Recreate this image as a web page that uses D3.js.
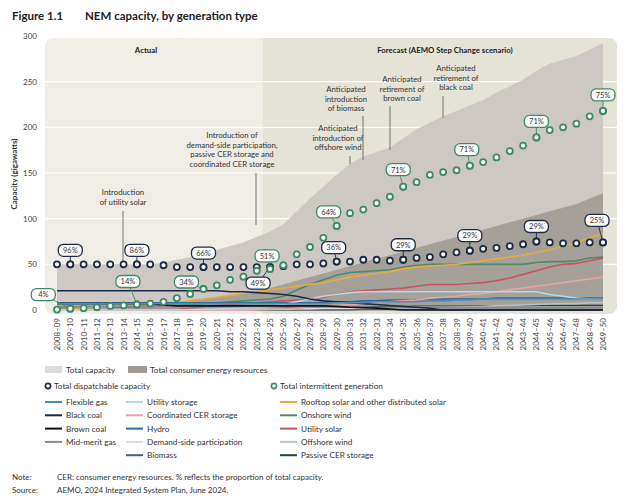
<!DOCTYPE html>
<html><head><meta charset="utf-8">
<script src="https://cdn.jsdelivr.net/npm/d3@7"></script>
<style>
body{margin:0;background:#fff;font-family:Lato,"Open Sans",sans-serif;}
text{font-family:Lato,"Open Sans",sans-serif;}
</style></head>
<body><svg id="chart" width="627" height="500"></svg>
<script>
const years = ["2008–09","2009–10","2010–11","2011–12","2012–13","2013–14","2014–15","2015–16","2016–17","2017–18","2018–19","2019–20","2020–21","2021–22","2022–23","2023–24","2024–25","2025–26","2026–27","2027–28","2028–29","2029–30","2030–31","2031–32","2032–33","2033–34","2034–35","2035–36","2036–37","2037–38","2038–39","2039–40","2040–41","2041–42","2042–43","2043–44","2044–45","2045–46","2046–47","2047–48","2048–49","2049–50"];
const yTicks = [0,50,100,150,200,250,300];

const totalCapacity = [50,50,50,50,50,50,50,50,52,55,58,62,66,70,74,80,86,94,108,122,135,148,160,168,173,178,188,198,205,212,218,224,230,238,245,252,262,270,274,278,285,292];
const totalCER = [1,1,2,2,3,4,5,6,7,8,10,12,14,16,18,21,24,28,32,36,40,44,48,52,56,60,64,68,72,76,80,84,88,92,96,100,104,108,112,116,122,128];
const dispatchable = [50,50,50,50,50,50,50,50,49,47,47,47,47,47,47,47,47,48,50,50,51,53,53,55,55,54,55,57,58,61,63,65,67,68,70,72,75,74,73,73,74,74];
const intermittent = [0.5,1.5,2,3,4.5,5,6,7,9,13,17.5,23,27,33,36.5,43,45,49,61,69,79,92,106,110,117,124,135,140,148,151,153,158,162,167,174,180,189,197,200,204,212,218];

const flexibleGas = [7,7,7,7,7,7,7,7,7,7,7,7,7,7,7,7,7,7,7,7,7,8,8,8,9,9,9,9,10,10,11,11,12,12,12,12,12,12,12,12,12,12];
const blackCoal = [21,21,21,21,21,21,21,21,21,21,21,21,21,20,20,19,18,17,15,12,10,9,8,7,6,5,4,3,2,0,0,0,0,0,0,0,0,0,0,0,0,0];
const brownCoal = [7,7,7,7,7,7,7,7,5.5,4.5,4.5,4.5,4.5,4.5,4.5,4.5,4.5,4.5,4.5,4.5,4.5,4,3,2.5,2,1,0,0,0,0,0,0,0,0,0,0,0,0,0,0,0,0];
const midMeritGas = [4,4,4,4,4,4,4,4,4,4,4,4,4,4,4,4,4,4,4,3.5,3.5,3.5,3,3,3,3,3,3,3,3,3,3,3,3,3,3,3,3,3,3,3,3];
const utilityStorage = [0,0,0,0,0,0,0,0,0,0,0.5,0.5,1,1.5,2,3,4,6,9,12,15,17,19,20,20,20,20,20,20,20,20,20,20,20,20,20,20,17,15,13,12,12];
const coordCER = [0,0,0,0,0,0,0,0,0,0,0,0,0,0,0,0,0.5,1,2,3,4,5,6,7,8,9,10,11,13,14,15,17,18,20,22,24,26,28,30,32,34,36];
const hydro = [8,8,8,8,8,8,8,8,8,8,8,8,8,8,8,8,8,8,8,8,8,9,9,10,10,11,11,11,12,12,12,12,12,13,13,13,13,13,13,13,13,13];
const demandSide = [0,0,0,0,0,0,0,0,0,0,0,0,0,0,0,1,1,1,1.5,1.5,2,2,2,2.5,2.5,2.5,3,3,3,3,3,3,3,3,3,3,3,3,3,3,3,3];
const biomass = [0,0,0,0,0,0,0,0,0,0,0,0,0,0,0,0,0,0,0,0,0,0,0,0.5,0.5,0.5,0.5,0.5,0.5,0.5,0.5,0.5,0.5,0.5,0.5,0.5,0.5,0.5,0.5,0.5,0.5,0.5];
const rooftopSolar = [0.5,1,2,3,4,5,5.5,6,7,8,10,12,14,16,18,20,22,24,26,28,30,33,36,38,40,42,45,47,48,49,50,52,54,56,58,60,63,66,70,74,79,84];
const onshoreWind = [2,2,2,3,3,3,4,4,5,5,6,7,8,9,10,11,12,15,22,28,33,38,41,42,43,44,47,49,50,50,50,50,50,50,50,50,52,53,53,54,57,58];
const utilitySolar = [0,0,0,0,0,0.3,0.5,0.5,0.5,0.5,2,4,5,6,7,8,9,10,11,12,14,17,20,21,22,23,24,26,28,28,28,29,30,32,35,39,43,47,50,51,54,57];
const offshoreWind = [0,0,0,0,0,0,0,0,0,0,0,0,0,0,0,0,0,0,0,0,0,0,0,0,0,0.5,1,1.5,2,2.5,3,3.5,4,4.5,5,5.5,6,6.5,7,7,8,8];
const passiveCER = [0,0,0,0,0,0,0,0,0,0,0,0,0,0,0,0.5,1,1.5,2,2,2.5,3,3,3,3.5,3.5,3.5,4,4,4,4,4,4.5,4.5,4.5,4.5,5,5,5,5,5,5];

const dispLabels = [[1,"96%"],[6,"86%"],[11,"66%"],[16,"49%"],[21,"36%"],[26,"29%"],[31,"29%"],[36,"29%"],[41,"25%"]];
const intLabels = [[1,"4%"],[6,"14%"],[11,"34%"],[16,"51%"],[21,"64%"],[26,"71%"],[31,"71%"],[36,"71%"],[41,"75%"]];

const series = [
  {name:"Flexible gas", v:flexibleGas, c:"#4b8db8", col:0},
  {name:"Black coal", v:blackCoal, c:"#1e2a45", col:0},
  {name:"Brown coal", v:brownCoal, c:"#111111", col:0},
  {name:"Mid-merit gas", v:midMeritGas, c:"#8a8a8a", col:0},
  {name:"Utility storage", v:utilityStorage, c:"#b9d6e8", col:1},
  {name:"Coordinated CER storage", v:coordCER, c:"#eba3a0", col:1},
  {name:"Hydro", v:hydro, c:"#2d6a99", col:1},
  {name:"Demand-side participation", v:demandSide, c:"#dcdcdc", col:1},
  {name:"Biomass", v:biomass, c:"#525e6b", col:1},
  {name:"Rooftop solar and other distributed solar", v:rooftopSolar, c:"#e9aa3c", col:2},
  {name:"Onshore wind", v:onshoreWind, c:"#4c8a68", col:2},
  {name:"Utility solar", v:utilitySolar, c:"#c8535a", col:2},
  {name:"Offshore wind", v:offshoreWind, c:"#b9c3c3", col:2},
  {name:"Passive CER storage", v:passiveCER, c:"#24453f", col:2}
];

const svg = d3.select("#chart");
const x = d3.scalePoint().domain(years).range([57,603]);
const y = d3.scaleLinear().domain([0,300]).range([310,36]);
const navy = "#1f2b45", green = "#3e8a66";

// title
svg.append("text").attr("x",12).attr("y",20).attr("font-size",11.5).attr("font-weight",700).attr("fill","#222").text("Figure 1.1");
svg.append("text").attr("x",85).attr("y",20).attr("font-size",11.5).attr("font-weight",700).attr("fill","#222").text("NEM capacity, by generation type");

// plot background
const splitX = (x(years[15]) + x(years[16])) / 2 - 1;
svg.append("clipPath").attr("id","bg").append("rect").attr("x",45).attr("y",38).attr("width",572).attr("height",276).attr("rx",8);
const bg = svg.append("g").attr("clip-path","url(#bg)");
bg.append("rect").attr("x",45).attr("y",38).attr("width",splitX-45).attr("height",276).attr("fill","#efede6");
bg.append("rect").attr("x",splitX).attr("y",38).attr("width",617-splitX).attr("height",276).attr("fill","#e5e2d8");
bg.selectAll("line.grid").data(yTicks.slice(1,-1)).join("line")
  .attr("x1",45).attr("x2",617).attr("y1",d=>y(d)).attr("y2",d=>y(d)).attr("stroke","#fff").attr("stroke-width",1.2);

// y axis labels
svg.selectAll("text.yt").data(yTicks).join("text").attr("x",37).attr("y",d=>y(d)+3).attr("text-anchor","end")
  .attr("font-size",8).attr("fill","#444").text(d=>d);
svg.append("text").attr("transform","translate(17,174) rotate(-90)").attr("text-anchor","middle")
  .attr("font-size",8).attr("font-weight",700).attr("fill","#333").text("Capacity (gigawatts)");

// areas
const area = vals => d3.area().x((d,i)=>x(years[i])).y0(y(0)).y1(d=>y(d))(vals);
bg.append("path").attr("d",area(totalCapacity)).attr("fill","#cdc8c4");
bg.append("path").attr("d",area(totalCER)).attr("fill","#a6a09b");

// lines
const line = d3.line().x((d,i)=>x(years[i])).y(d=>y(d));
bg.selectAll("path.s").data(series.slice().reverse()).join("path")
  .attr("d",d=>line(d.v)).attr("fill","none").attr("stroke",d=>d.c).attr("stroke-width",1.6);

// annotations
const notes = [
  {lines:["Introduction","of utility solar"], cx:123, ty:195, lx:123, l1:211, l2:264},
  {lines:["Introduction of","demand-side participation,","passive CER storage and","coordinated CER storage"], cx:232, ty:138, lx:256, l1:173, l2:225},
  {lines:["Anticipated","introduction of","offshore wind"], cx:338, ty:131, lx:350, l1:156, l2:164},
  {lines:["Anticipated","introduction","of biomass"], cx:346, ty:92, lx:363, l1:116, l2:160},
  {lines:["Anticipated","retirement of","brown coal"], cx:402, ty:82, lx:390, l1:106, l2:150},
  {lines:["Anticipated","retirement of","black coal"], cx:456, ty:71, lx:443, l1:96, l2:118}
];
notes.forEach(n=>{
  const t = svg.append("text").attr("text-anchor","middle").attr("font-size",7.8).attr("fill","#333");
  n.lines.forEach((s,i)=>t.append("tspan").attr("x",n.cx).attr("y",n.ty+i*9.6).text(s));
  svg.append("line").attr("x1",n.lx).attr("x2",n.lx).attr("y1",n.l1).attr("y2",n.l2).attr("stroke","#555").attr("stroke-width",0.8);
});
svg.append("text").attr("x",146).attr("y",53).attr("text-anchor","middle").attr("font-size",7.8).attr("font-weight",700).attr("fill","#222").text("Actual");
svg.append("text").attr("x",445).attr("y",53).attr("text-anchor","middle").attr("font-size",7.8).attr("font-weight",700).attr("fill","#222").text("Forecast (AEMO Step Change scenario)");

// dots
function dots(vals, col){
  svg.append("g").selectAll("circle").data(vals).join("circle")
    .attr("cx",(d,i)=>x(years[i])).attr("cy",d=>y(d)).attr("r",3)
    .attr("fill","#fff").attr("stroke",col).attr("stroke-width",1.8);
}
dots(dispatchable, navy);
dots(intermittent, green);

// percent callouts (dx, dy offsets of the box from the dot)
const dispOff = {1:[0,-14],6:[0,-14],11:[0,-14],16:[-12,16],21:[-3,-14],26:[0,-15],31:[0,-15],36:[0,-15],41:[-6,-22]};
const intOff = {1:[-27,-14],6:[-9,-23],11:[-17,-7],16:[-3,-13],21:[-8,-14],26:[-5,-17],31:[-3,-16],36:[0,-16],41:[0,-16]};
function callouts(labels, vals, offs, col){
  labels.forEach(([i,t])=>{
    const px = x(years[i]), py = y(vals[i]);
    const [dx,dy] = offs[i];
    const bx = px+dx, by = py+dy;
    svg.append("line").attr("x1",px).attr("y1",py).attr("x2",bx).attr("y2",by).attr("stroke",col).attr("stroke-width",0.9);
    svg.append("rect").attr("x",bx-12).attr("y",by-6).attr("width",24).attr("height",12).attr("rx",5)
      .attr("fill","#fff").attr("stroke",col).attr("stroke-width",1.3);
    svg.append("text").attr("x",bx).attr("y",by+2.8).attr("text-anchor","middle").attr("font-size",7.5).attr("fill","#333").text(t);
    svg.append("circle").attr("cx",px).attr("cy",py).attr("r",3).attr("fill","#fff").attr("stroke",col).attr("stroke-width",1.8);
  });
}
callouts(dispLabels, dispatchable, dispOff, navy);
callouts(intLabels, intermittent, intOff, green);

// x axis labels
svg.selectAll("text.xt").data(years).join("text")
  .attr("transform",d=>`translate(${x(d)+3},318) rotate(-90)`).attr("text-anchor","end")
  .attr("font-size",8).attr("fill","#444").text(d=>d);

// legend
const lg = svg.append("g").attr("font-size",8.2).attr("fill","#333");
lg.append("rect").attr("x",45).attr("y",366).attr("width",17).attr("height",7).attr("fill","#dddad7");
lg.append("text").attr("x",66).attr("y",373).text("Total capacity");
lg.append("rect").attr("x",128).attr("y",366).attr("width",19).attr("height",7).attr("fill","#9f9995");
lg.append("text").attr("x",150).attr("y",373).text("Total consumer energy resources");
lg.append("circle").attr("cx",48).attr("cy",386).attr("r",2.6).attr("fill","#fff").attr("stroke",navy).attr("stroke-width",1.6);
lg.append("text").attr("x",54).attr("y",389).text("Total dispatchable capacity");
lg.append("circle").attr("cx",274).attr("cy",386).attr("r",2.6).attr("fill","#fff").attr("stroke",green).attr("stroke-width",1.6);
lg.append("text").attr("x",280).attr("y",389).text("Total intermittent generation");
const colX = [45,126,280];
series.forEach(s=>{
  const row = series.filter(t=>t.col===s.col).indexOf(s);
  const yy = 402 + row*13.3;
  lg.append("line").attr("x1",colX[s.col]).attr("x2",colX[s.col]+17).attr("y1",yy).attr("y2",yy).attr("stroke",s.c).attr("stroke-width",2);
  lg.append("text").attr("x",colX[s.col]+21).attr("y",yy+3).text(s.name);
});

// notes
const ft = svg.append("g").attr("font-size",8).attr("fill","#333");
ft.append("text").attr("x",12).attr("y",480).text("Note:");
ft.append("text").attr("x",57).attr("y",480).text("CER: consumer energy resources. % reflects the proportion of total capacity.");
ft.append("text").attr("x",12).attr("y",493).text("Source:");
ft.append("text").attr("x",57).attr("y",493).text("AEMO, 2024 Integrated System Plan, June 2024.");
</script></body></html>
